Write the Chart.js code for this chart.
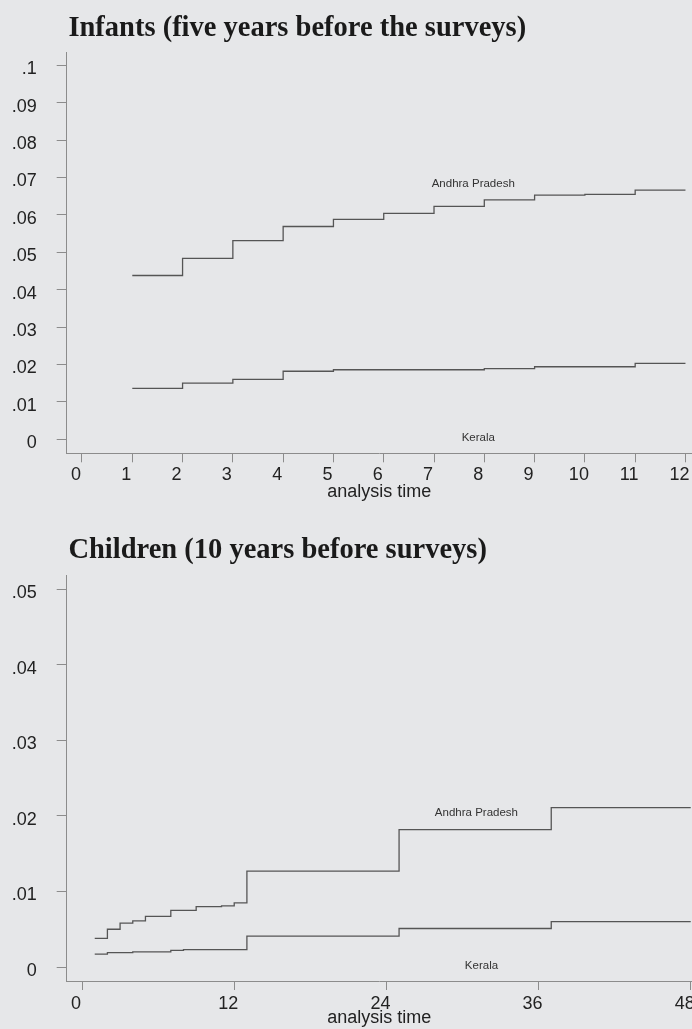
<!DOCTYPE html>
<html>
<head>
<meta charset="utf-8">
<title>Infants and children</title>
<script src="https://cdn.jsdelivr.net/npm/chart.js@4"></script>
<style>
  body { margin: 0; background: #e6e7e9; }
  canvas { display: block; }
</style>
</head>
<body>
<canvas id="infantChart" width="692" height="515"></canvas>
<canvas id="childChart" width="692" height="514"></canvas>
<script>
// series names
var seriesNames = ["Andhra Pradesh", "Kerala"];

// infants: analysis time (months) and failure estimates
var infantTimes = [1, 2, 3, 4, 5, 6, 7, 8, 9, 10, 11, 12];
var infantAndhra = [0.0438, 0.0484, 0.0531, 0.0569, 0.0588, 0.0604, 0.0623, 0.0640, 0.0653, 0.0655, 0.0666, 0.0666];
var infantKerala = [0.0136, 0.0150, 0.0160, 0.0182, 0.0186, 0.0186, 0.0186, 0.0189, 0.0194, 0.0194, 0.0203, 0.0203];
var infantXTicks = [0, 1, 2, 3, 4, 5, 6, 7, 8, 9, 10, 11, 12];
var infantYTicks = [0, 0.01, 0.02, 0.03, 0.04, 0.05, 0.06, 0.07, 0.08, 0.09, 0.1];
var infantLabelX = [7.78, 7.88];
var infantLabelY = [0.0682, 0.0003];

// children: analysis time (months) and failure estimates
var childAndhraTimes = [1, 2, 3, 4, 5, 7, 9, 11, 12, 13, 25, 37, 48];
var childAndhra = [0.0038, 0.0050, 0.0058, 0.0061, 0.0067, 0.0075, 0.0080, 0.0081, 0.0085, 0.0127, 0.0182, 0.0211, 0.0211];
var childKeralaTimes = [1, 2, 4, 7, 8, 13, 25, 37, 48];
var childKerala = [0.0017, 0.0019, 0.0020, 0.0022, 0.0023, 0.0041, 0.0051, 0.0060, 0.0060];
var childXTicks = [0, 12, 24, 36, 48];
var childYTicks = [0, 0.01, 0.02, 0.03, 0.04, 0.05];
var childLabelX = [31.1, 31.5];
var childLabelY = [0.0204, 0.0001];

var lineColor = "#555555";
var axisColor = "#8c8c8c";
var textColor = "#222222";

function toPoints(xs, ys) {
  return xs.map(function(x, i) { return { x: x, y: ys[i] }; });
}

function fmt(value) {
  if (value === 0) return "0";
  return String(+value.toFixed(3)).replace(/^0/, "");
}

// draws the panel heading and the curve names
var panelText = {
  id: "panelText",
  afterDraw: function(chart, args, opts) {
    var ctx = chart.ctx;
    var xs = chart.scales.x, ys = chart.scales.y;
    ctx.save();
    ctx.fillStyle = "#1a1a1a";
    ctx.font = 'bold 28.5px "Liberation Serif"';
    ctx.textAlign = "left";
    ctx.textBaseline = "alphabetic";
    ctx.fillText(opts.text, chart.chartArea.left + 1.7, opts.baseline);

    ctx.fillStyle = "#333333";
    ctx.font = '11.5px "Liberation Sans"';
    ctx.textAlign = "center";
    ctx.textBaseline = "middle";
    opts.names.forEach(function(name, i) {
      ctx.fillText(name, xs.getPixelForValue(opts.labelX[i]), ys.getPixelForValue(opts.labelY[i]));
    });
    ctx.restore();
  }
};

function makeChart(id, cfg) {
  var tickFont = { family: "Liberation Sans", size: 18 };
  return new Chart(document.getElementById(id).getContext("2d"), {
    type: "line",
    data: {
      datasets: cfg.series.map(function(s) {
        return {
          label: s.name,
          data: s.points,
          stepped: true,
          borderColor: lineColor,
          borderWidth: 1.3,
          pointRadius: 0,
          fill: false
        };
      })
    },
    options: {
      responsive: false,
      animation: false,
      layout: { padding: { top: cfg.top, left: 0, right: 0, bottom: 0 } },
      plugins: {
        legend: { display: false },
        tooltip: { enabled: false },
        panelText: {
          text: cfg.title,
          baseline: cfg.titleBaseline,
          names: seriesNames,
          labelX: cfg.labelX,
          labelY: cfg.labelY
        }
      },
      scales: {
        x: {
          type: "linear",
          min: cfg.xMin,
          max: cfg.xMax,
          afterBuildTicks: function(s) {
            s.ticks = cfg.xTicks.map(function(v) { return { value: v }; });
          },
          afterFit: function(s) {
            s.height = cfg.xHeight;
            s.paddingLeft = 0;
            s.paddingRight = 0;
          },
          grid: { drawOnChartArea: false, tickLength: 9, tickColor: axisColor },
          border: { color: axisColor, width: 1 },
          ticks: {
            font: tickFont,
            color: textColor,
            padding: cfg.xTickPad,
            labelOffset: -6,
            maxRotation: 0,
            autoSkip: false
          },
          title: {
            display: true,
            text: "analysis time",
            font: { family: "Liberation Sans", size: 18 },
            color: textColor,
            padding: { top: 0, bottom: cfg.xTitlePad }
          }
        },
        y: {
          min: cfg.yMin,
          max: cfg.yMax,
          afterBuildTicks: function(s) {
            s.ticks = cfg.yTicks.map(function(v) { return { value: v }; });
          },
          afterFit: function(s) {
            s.width = 66.7;
            s.paddingTop = 0;
            s.paddingBottom = 0;
          },
          grid: { drawOnChartArea: false, tickLength: 10, tickColor: axisColor },
          border: { color: axisColor, width: 1 },
          ticks: {
            font: tickFont,
            color: textColor,
            padding: 20,
            labelOffset: 4,
            autoSkip: false,
            callback: fmt
          }
        }
      }
    },
    plugins: [panelText]
  });
}

makeChart("infantChart", {
  title: "Infants (five years before the surveys)",
  titleBaseline: 35.5,
  top: 52,
  xHeight: 61.7,
  xTickPad: 2,
  xTitlePad: 12.5,
  xMin: -0.304,
  xMax: 12.13,
  yMin: -0.00374,
  yMax: 0.10355,
  xTicks: infantXTicks,
  yTicks: infantYTicks,
  labelX: infantLabelX,
  labelY: infantLabelY,
  series: [
    { name: seriesNames[0], points: toPoints(infantTimes, infantAndhra) },
    { name: seriesNames[1], points: toPoints(infantTimes, infantKerala) }
  ]
});

makeChart("childChart", {
  title: "Children (10 years before surveys)",
  titleBaseline: 43,
  top: 60,
  xHeight: 48,
  xTickPad: 3,
  xTitlePad: 0,
  xMin: -1.21,
  xMax: 48.1,
  yMin: -0.00185,
  yMax: 0.0519,
  xTicks: childXTicks,
  yTicks: childYTicks,
  labelX: childLabelX,
  labelY: childLabelY,
  series: [
    { name: seriesNames[0], points: toPoints(childAndhraTimes, childAndhra) },
    { name: seriesNames[1], points: toPoints(childKeralaTimes, childKerala) }
  ]
});
</script>
</body>
</html>
